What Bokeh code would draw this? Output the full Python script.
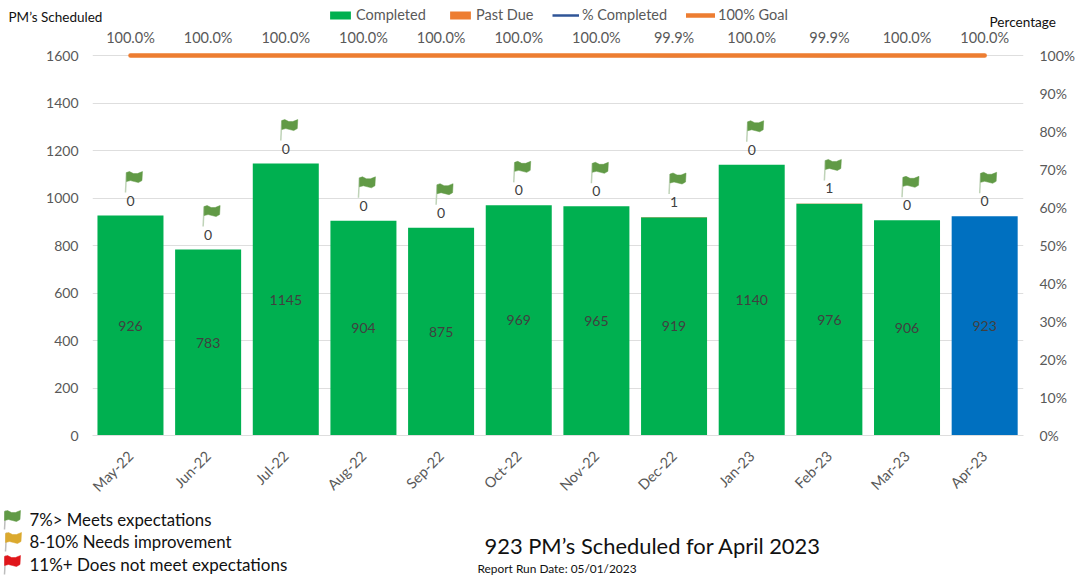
from bokeh.plotting import figure
from bokeh.layouts import column
from bokeh.models import (ColumnDataSource, Range1d, LinearAxis, FixedTicker, Legend, LegendItem,
                          NumeralTickFormatter)
from bokeh.core.properties import value
from bokeh.embed import file_html
from bokeh.resources import INLINE
from math import pi

months = ["May-22", "Jun-22", "Jul-22", "Aug-22", "Sep-22", "Oct-22", "Nov-22", "Dec-22", "Jan-23", "Feb-23", "Mar-23", "Apr-23"]
completed = [926, 783, 1145, 904, 875, 969, 965, 919, 1140, 976, 906, 923]
past_due = [0, 0, 0, 0, 0, 0, 0, 1, 0, 1, 0, 0]
pct_completed = [100.0, 100.0, 100.0, 100.0, 100.0, 100.0, 100.0, 99.9, 100.0, 99.9, 100.0, 100.0]
goal = [100.0] * 12
left_ticks = [0, 200, 400, 600, 800, 1000, 1200, 1400, 1600]
right_ticks = [0.0, 0.1, 0.2, 0.3, 0.4, 0.5, 0.6, 0.7, 0.8, 0.9, 1.0]

FONT = "Lato"
GRAY = "#595959"
DARK = "#404040"
GREEN, ORANGE, BLUE, NAVY = "#00B050", "#ED7D31", "#0070C0", "#2F5597"
FLAG_GREEN, FLAG_YELLOW, FLAG_RED = "#619A46", "#DBA92E", "#E0161B"

TOP_H, MAIN_H, BOTTOM_H = 29, 476, 73
FRAME_H = 406
PX_Y = 1600 / 380
PX_X = 1 / 77.73
TOP_Y = FRAME_H * PX_Y
NAN = float("nan")

idx = list(range(len(months)))
tops = [c + d for c, d in zip(completed, past_due)]
bar_colors = [GREEN] * 11 + [BLUE]

p = figure(width=1078, height=MAIN_H, output_backend="svg", toolbar_location=None, frame_align=False,
           x_range=Range1d(-0.489, 11.5), y_range=Range1d(0, TOP_Y),
           min_border_left=92, min_border_right=54, min_border_top=0, min_border_bottom=MAIN_H - FRAME_H)
p.outline_line_color = None
p.xgrid.visible = False
p.ygrid.grid_line_color = "#DEDEDE"
p.ygrid.ticker = FixedTicker(ticks=left_ticks)

p.extra_y_ranges = {"pct": Range1d(0, TOP_Y / 1600)}
right = LinearAxis(y_range_name="pct", ticker=FixedTicker(ticks=right_ticks),
                   formatter=NumeralTickFormatter(format="0%"))
p.add_layout(right, "right")

ya = p.yaxis[0]
ya.ticker = FixedTicker(ticks=left_ticks)
for ax, standoff in ((ya, 14), (right, 16)):
    ax.axis_line_color = None
    ax.major_tick_line_color = None
    ax.minor_tick_line_color = None
    ax.major_tick_out = 0
    ax.major_tick_in = 0
    ax.minor_tick_out = 0
    ax.minor_tick_in = 0
    ax.major_label_text_font = FONT
    ax.major_label_text_font_size = "14px"
    ax.major_label_text_color = GRAY
    ax.major_label_standoff = standoff

xa = p.xaxis[0]
xa.ticker = FixedTicker(ticks=idx)
xa.major_label_overrides = {i: m for i, m in zip(idx, months)}
xa.major_label_orientation = pi / 4
xa.major_label_text_font = FONT
xa.major_label_text_font_size = "14.5px"
xa.major_label_text_color = GRAY
xa.major_label_standoff = 18
xa.major_tick_out = 0
xa.major_tick_in = 0
xa.minor_tick_out = 0
xa.minor_tick_in = 0
xa.axis_line_color = "#DEDEDE"
xa.major_tick_line_color = None
xa.minor_tick_line_color = None

src = ColumnDataSource(dict(x=idx, completed=completed, past=past_due, top=tops, color=bar_colors,
                            mid=[c / 2 for c in completed],
                            comp_txt=[str(c) for c in completed],
                            past_txt=[str(d) for d in past_due],
                            pct=[v / 100 for v in pct_completed],
                            goal=[v / 100 for v in goal],
                            pct_txt=[f"{v:.1f}%" for v in pct_completed]))

p.vbar(x="x", top="completed", width=0.85, fill_color="color", line_color=None, source=src)
p.vbar(x="x", bottom="completed", top="top", width=0.85, fill_color=ORANGE, line_color=None, source=src)
p.line(x="x", y="pct", line_color=NAVY, line_width=2.5, y_range_name="pct", source=src)
p.line(x="x", y="goal", line_color=ORANGE, line_width=4.5, line_cap="round", y_range_name="pct", source=src)

p.text(x="x", y="mid", text="comp_txt", source=src, text_font=value(FONT), text_font_size="14px",
       text_color=DARK, text_align="center", text_baseline="middle")
p.text(x="x", y="top", text="past_txt", source=src, text_font=value(FONT), text_font_size="14px",
       text_color=DARK, text_align="center", text_baseline="middle", y_offset=-15)
p.text(x="x", y="pct", text="pct_txt", source=src, y_range_name="pct", text_font=value(FONT),
       text_font_size="14.5px", text_color=GRAY, text_align="center", text_baseline="middle", y_offset=-18)

# flags: shape in pixels relative to the top of each bar
CLOTH_X = [-4, -1, 3, 7, 12, 11.5, 8, 4, 0, -4]
CLOTH_Y = [43, 44, 42, 42, 44, 35, 33, 34, 35, 34]
p.segment(x0=[i - 4 * PX_X for i in idx], y0=[t + 43 * PX_Y for t in tops],
          x1=[i - 5 * PX_X for i in idx], y1=[t + 23 * PX_Y for t in tops],
          line_color="#BFD3B8", line_width=1.5)
p.patches(xs=[[i + dx * PX_X for dx in CLOTH_X] for i in idx],
          ys=[[t + dy * PX_Y for dy in CLOTH_Y] for t in tops],
          fill_color=FLAG_GREEN, line_color=FLAG_GREEN, line_width=0.5)


def strip(height):
    s = figure(width=1078, height=height, output_backend="svg", toolbar_location=None, frame_align=False,
               x_range=Range1d(0, 1078), y_range=Range1d(height, 0),
               min_border_left=0, min_border_right=0, min_border_top=0, min_border_bottom=0)
    s.axis.visible = False
    s.grid.visible = False
    s.outline_line_color = None
    return s


def put_text(s, text, x, y, size, color="#111111"):
    s.text(x=[x], y=[y], text=[text], text_font=value(FONT), text_font_size=size,
           text_color=color, text_align="left", text_baseline="middle")


# top strip: axis titles and legend
top = strip(TOP_H)
put_text(top, "PM’s Scheduled", 8, 16, "13.5px")
put_text(top, "Percentage", 989, 21, "13.6px")
k_comp = top.vbar(x=[NAN], top=[NAN], width=1, fill_color=GREEN, line_color=None)
k_past = top.vbar(x=[NAN], top=[NAN], width=1, fill_color=ORANGE, line_color=None)
k_pct = top.line(x=[NAN, NAN], y=[NAN, NAN], line_color=NAVY, line_width=2.5)
k_goal = top.line(x=[NAN, NAN], y=[NAN, NAN], line_color=ORANGE, line_width=4.5, line_cap="round")
for label, rend, px, gw in (("Completed", k_comp, 327, 26), ("Past Due", k_past, 447, 26),
                            ("% Completed", k_pct, 552, 27), ("100% Goal", k_goal, 686, 29)):
    top.add_layout(Legend(items=[LegendItem(label=label, renderers=[rend])],
                          location=(px, 6), orientation="horizontal",
                          border_line_color=None, background_fill_alpha=0, padding=0, margin=0,
                          glyph_width=gw, glyph_height=10, label_standoff=3,
                          label_text_font=FONT, label_text_font_size="14.5px", label_text_color=GRAY))

# bottom strip: rating key and captions
bottom = strip(BOTTOM_H)
Y0 = TOP_H + MAIN_H
put_text(bottom, "7%> Meets expectations", 29, 519 - Y0, "16.8px")
put_text(bottom, "8-10% Needs improvement", 29, 541 - Y0, "16.8px")
put_text(bottom, "11%+  Does not meet expectations", 29, 564 - Y0, "17px")
put_text(bottom, "923 PM’s Scheduled for April 2023", 484, 545 - Y0, "21.9px")
put_text(bottom, "Report Run Date: 05/01/2023", 477, 568 - Y0, "11.9px")
for color, px, py in ((FLAG_GREEN, 4, 510), (FLAG_YELLOW, 5, 532), (FLAG_RED, 4, 555)):
    bottom.segment(x0=[px + 1], y0=[py - Y0], x1=[px], y1=[py + 19 - Y0], line_color="#BDBDBD", line_width=1.5)
    bottom.patch(x=[px + 4 + dx for dx in CLOTH_X], y=[py + 44 - dy - Y0 for dy in CLOTH_Y],
                 fill_color=color, line_color=color, line_width=0.5)

page = column(top, p, bottom, spacing=0)
open("out.html", "w").write(file_html(page, INLINE))
